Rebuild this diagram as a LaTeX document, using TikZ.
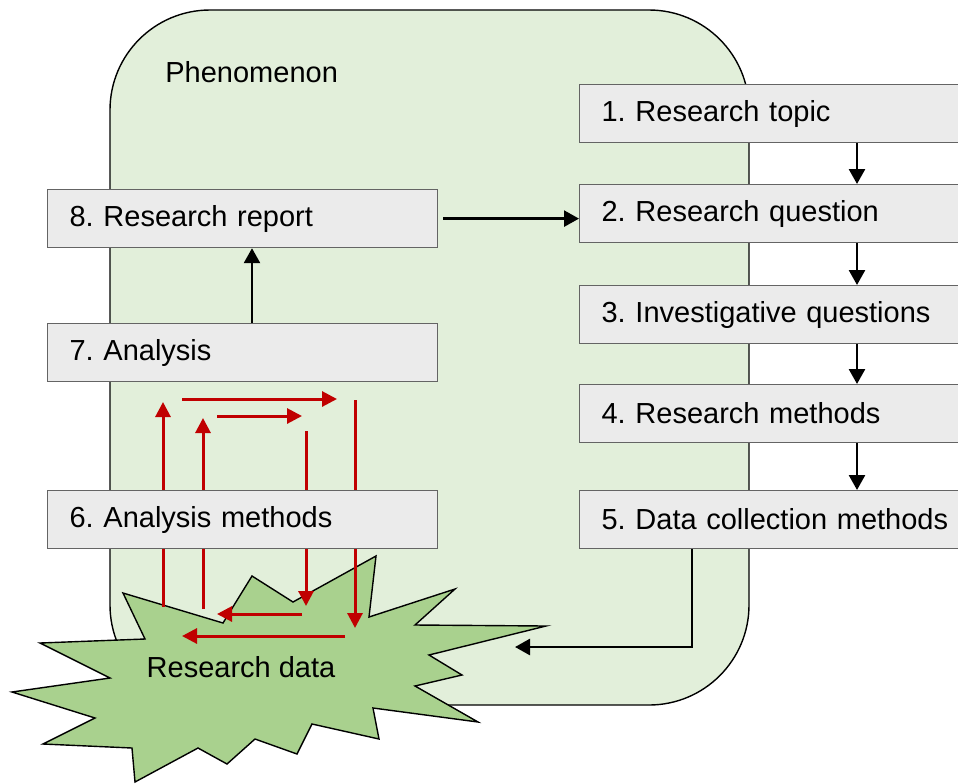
\documentclass[tikz,border=0pt]{standalone}
\usepackage{fontspec}
\setmainfont{Liberation Sans}
\usetikzlibrary{arrows.meta,positioning,calc}
\definecolor{phengreen}{RGB}{226,239,218}
\definecolor{burstgreen}{RGB}{169,209,142}
\definecolor{boxgray}{RGB}{235,235,235}
\definecolor{boxline}{RGB}{100,100,100}
\definecolor{loopred}{RGB}{192,0,0}
\tikzset{
  phenbox/.style={rectangle, rounded corners=50pt, draw=black, line width=0.7pt, fill=phengreen, minimum width=319.5pt, minimum height=347.5pt},
  stepbox/.style={rectangle, draw=boxline, fill=boxgray, line width=0.6pt, inner xsep=11pt, inner ysep=0pt, minimum height=29pt, align=left, anchor=north west, font=\fontsize{14.5}{16}\selectfont\frenchspacing},
  rightstep/.style={stepbox, text width=180pt},
  leftstep/.style={stepbox, text width=173pt},
  burst/.style={draw=black, line width=0.7pt, fill=burstgreen, line join=miter},
  flowarrow/.style={-{Triangle[length=7.5pt,width=8pt]}, line width=1.3pt, black},
  looparrow/.style={-{Triangle[length=7.5pt,width=7.5pt]}, line width=1.5pt, loopred},
  plainlabel/.style={inner sep=0pt, font=\fontsize{14.5}{16}\selectfont}
}

\begin{document}
\begin{tikzpicture}[x=0.5pt,y=-0.5pt]
  \useasboundingbox (0,0) rectangle (958,783);
  % phenomenon region
  \node[phenbox] (phen) at (429.5,357.5) {};
  \node[plainlabel, anchor=west] (phenlabel) at (165,72) {Phenomenon};

  % research data
  \draw[burst] (123,593) -- (223,623) -- (252,576) -- (293,602) -- (376,556) -- (369,617)
    -- (455,589) -- (415,625) -- (546,626) -- (429,655) -- (462,675) -- (415,686)
    -- (478,722) -- (373,708) -- (379,739) -- (312,724) -- (297,754) -- (255,739)
    -- (227,764) -- (198,748) -- (135,782) -- (132,748) -- (43,744) -- (95,718)
    -- (12,692) -- (110,678) -- (40,643) -- (145,639) -- cycle;
  \node[plainlabel] (data) at (241,667) {Research data};

  % analysis loops
  \coordinate (la1) at (163,607); \coordinate (la2) at (163,402);
  \coordinate (lb1) at (203,609); \coordinate (lb2) at (203,418);
  \coordinate (lc1) at (182,399); \coordinate (lc2) at (337,399);
  \coordinate (ld1) at (217,416); \coordinate (ld2) at (302,416);
  \coordinate (le1) at (306,431); \coordinate (le2) at (306,606);
  \coordinate (lf1) at (355,400); \coordinate (lf2) at (355,628);
  \coordinate (lg1) at (302,614); \coordinate (lg2) at (217,614);
  \coordinate (lh1) at (345,636); \coordinate (lh2) at (182,636);
  \draw[looparrow] (la1)--(la2);
  \draw[looparrow] (lb1)--(lb2);
  \draw[looparrow] (lc1)--(lc2);
  \draw[looparrow] (ld1)--(ld2);
  \draw[looparrow] (le1)--(le2);
  \draw[looparrow] (lf1)--(lf2);
  \draw[looparrow] (lg1)--(lg2);
  \draw[looparrow] (lh1)--(lh2);

  % steps
  \node[rightstep] (topic) at (579,84) {1. Research topic};
  \node[rightstep] (question) at (579,184) {2. Research question};
  \node[rightstep] (invest) at (579,285) {3. Investigative questions};
  \node[rightstep] (methods) at (579,384) {4. Research methods};
  \node[rightstep] (collect) at (579,490) {5. Data collection methods};
  \node[leftstep] (analmeth) at (47,490) {6. Analysis methods};
  \node[leftstep] (analysis) at (47,323) {7. Analysis};
  \node[leftstep] (report) at (47,189) {8. Research report};

  \coordinate (downx) at (857,0);
  \coordinate (upx) at (252,0);
  \coordinate (turnx) at (692,0);
  \coordinate (datain) at (515,647);
  \draw[flowarrow] (topic.south -| downx)--(question.north -| downx);
  \draw[flowarrow] (question.south -| downx)--(invest.north -| downx);
  \draw[flowarrow] (invest.south -| downx)--(methods.north -| downx);
  \draw[flowarrow] (methods.south -| downx)--(collect.north -| downx);
  \draw[flowarrow] (collect.south -| turnx) |- (datain);
  \draw[flowarrow] (analysis.north -| upx)--(report.south -| upx);
  \draw[flowarrow] ([xshift=2.5pt]report.east)--(report.east -| question.west);
\end{tikzpicture}
\end{document}
